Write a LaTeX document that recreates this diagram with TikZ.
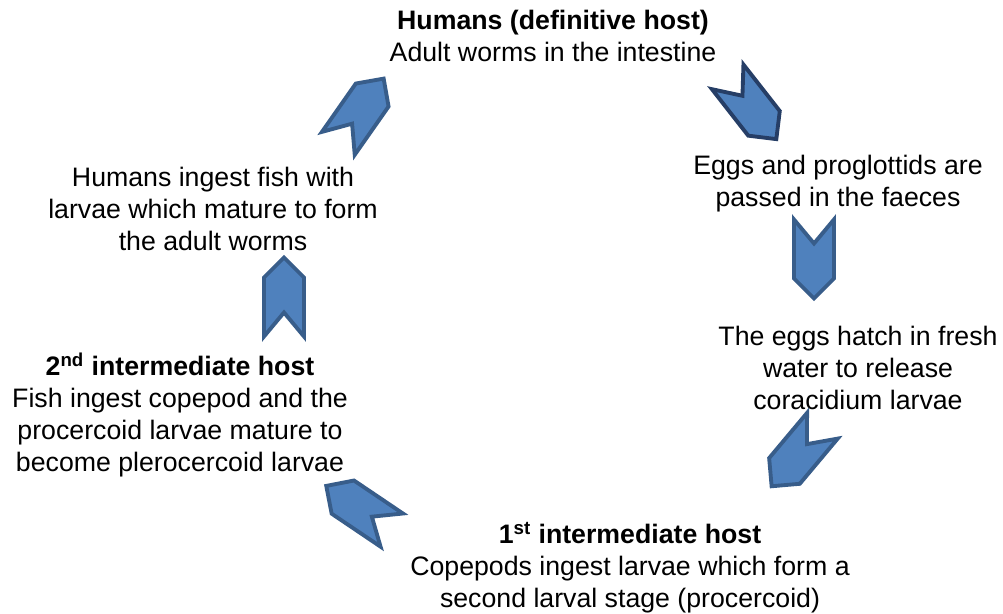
\documentclass[tikz,border=0pt]{standalone}
\usepackage{fontspec}
\setmainfont{Liberation Sans}
\definecolor{chevfill}{RGB}{79,129,189}
\definecolor{chevline}{RGB}{56,93,138}
\definecolor{chevdark}{RGB}{38,62,102}
\tikzset{
    every node/.style={inner sep=0mm, align=center, font=\fontsize{15.2}{18.2}\selectfont},
    chev/.style={fill=chevfill, draw=chevline, line width=2.2pt, line join=miter},
    chevron/.pic={
        \filldraw[chev] (-39.5,-20) -- (-15.5,0) -- (-39.5,20) -- (19.5,20) -- (39.5,0) -- (19.5,-20) -- cycle;
    }
}

\begin{document}
\begin{tikzpicture}[x=0.02cm, y=-0.02cm]
  \useasboundingbox (0,0) rectangle (1003,614);
  \node (hum) at (553,36) {\textbf{Humans (definitive host)}\\Adult worms in the intestine};
  \node (egg) at (838,184) {Eggs and proglottids are\\passed in the faeces};
  \node (hat) at (858,368) {The eggs hatch in fresh\\water to release\\coracidium larvae};
  \node (cop) at (630,568) {\textbf{1\textsuperscript{st} intermediate host}\\Copepods ingest larvae which form a\\second larval stage (procercoid)};
  \node (fish) at (180,415) {\textbf{2\textsuperscript{nd} intermediate host}\\Fish ingest copepod and the\\procercoid larvae mature to\\become plerocercoid larvae};
  \node (ing) at (213,209) {Humans ingest fish with\\larvae which mature to form\\the adult worms};

  \pic[rotate=-52, chev/.append style={draw=chevdark}] at (752,108) {chevron};
  \pic[rotate=-90] at (814,259) {chevron};
  \pic[rotate=-130] at (797,456) {chevron};
  \pic[rotate=146] at (359,508) {chevron};
  \pic[rotate=90] at (284,297) {chevron};
  \pic[rotate=55] at (361,111) {chevron};
\end{tikzpicture}
\end{document}
